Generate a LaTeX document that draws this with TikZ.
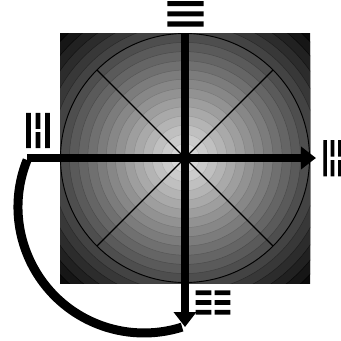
\documentclass[tikz,border=0pt]{standalone}
\usepackage{fontspec}
\newfontfamily\dv[FakeBold=6]{DejaVu Sans}
\usetikzlibrary{arrows.meta}
\begin{document}
\begin{tikzpicture}[x=1pt,y=-1pt,
  bar/.style={line width=8.5pt},
  diag/.style={line width=1.4pt},
  tri/.style={inner sep=0pt, outer sep=0pt},
  headtip/.style={-{Triangle[length=15pt,width=22pt]}}]
\useasboundingbox (0,0) rectangle (341,341);
\coordinate (O) at (185,158);
\begin{scope}
  \clip (60,33) rectangle (310,283);
  \foreach \i in {0,...,19} {
    \pgfmathsetmacro\r{180-9.2*\i}
    \pgfmathsetmacro\b{91-87*\r/180}
    \pgfmathsetmacro\bb{max(\b-10,0)}
    \filldraw[fill=white!\b!black, draw=white!\bb!black, line width=0.5pt] (O) circle[radius=\r];
  }
\end{scope}
\draw[line width=0.9pt] (O) circle[radius=124.5];
\foreach \a in {45,135,225,315} \draw[diag] (O) -- ++(\a:124.5);
% curved connector
\coordinate (arcstart) at (27.1,160);
\coordinate (arcend) at (182.1,327.1);
\draw[line width=9pt] (arcstart) arc[start angle=201.9, end angle=72.4, radius=126];
% main axes
\coordinate (L) at (27,158);
\coordinate (R) at (316,158);
\coordinate (T) at (185,33);
\coordinate (B) at (185,327);
\draw[bar,headtip] (L) -- (R);
\draw[bar,headtip] (T) -- (B);
% trigrams
\node[tri] (qian) at (185.5,13.8) {\resizebox{41pt}{23.5pt}{\dv ☰}};
\node[tri] (kun) at (213,302.5) {\resizebox{39.5pt}{22.5pt}{\dv ☷}};
\node[tri,rotate=90] (li) at (38,130.5) {\resizebox{40pt}{22pt}{\dv ☲}};
\node[tri,rotate=-90] (zhen) at (332.5,158.3) {\resizebox{41pt}{17pt}{\dv ☳}};
\end{tikzpicture}
\end{document}
